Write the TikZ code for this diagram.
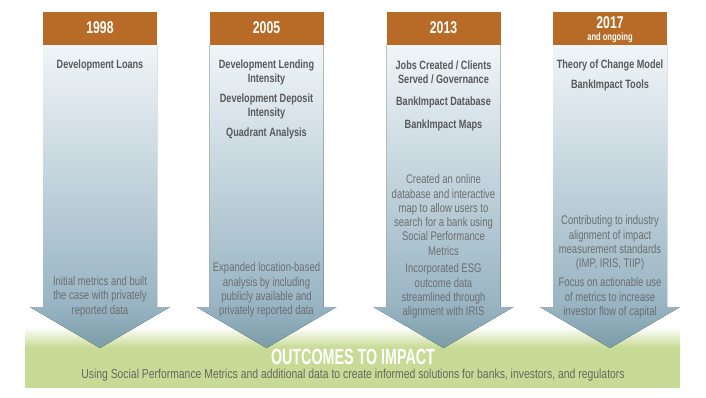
\documentclass[tikz,border=0pt]{standalone}
\usepackage{fontspec}
\setmainfont{Liberation Sans}[FakeStretch=0.76]
\newfontfamily\hdrfont{Liberation Sans}[FakeStretch=0.72]
\newfontfamily\outfont{Liberation Sans}[FakeStretch=0.65]
\newfontfamily\subfont{Liberation Sans}[FakeStretch=0.8]
\definecolor{hdrc}{HTML}{B86B27}
\definecolor{topc}{HTML}{F0F5F8}
\definecolor{shc}{HTML}{98B4C3}
\definecolor{tipc}{HTML}{7A9DA6}
\definecolor{gc}{HTML}{C8DB96}
\definecolor{titc}{HTML}{58595B}
\definecolor{bodc}{HTML}{6D6E70}
\definecolor{subc}{HTML}{66675F}
\pgfdeclareverticalshading{arrowshade}{100bp}{color(0bp)=(tipc); color(25bp)=(tipc); color(32bp)=(shc); color(75bp)=(topc); color(100bp)=(topc)}
\pgfdeclareverticalshading{greenshade}{100bp}{color(0bp)=(gc); color(25bp)=(gc); color(58bp)=(gc); color(75bp)=(white); color(100bp)=(white)}
\tikzset{
  hdrbox/.style={fill=hdrc, draw=none},
  yeartxt/.style={text=white, font=\hdrfont\bfseries\fontsize{17}{18}\selectfont, inner sep=0pt},
  subyear/.style={text=white, font=\hdrfont\bfseries\fontsize{10.5}{11}\selectfont, inner sep=0pt},
  tittxt/.style={text=titc, font=\bfseries\fontsize{12}{14}\selectfont, align=center, inner sep=0pt},
  bodtxt/.style={text=bodc, font=\fontsize{12.5}{14.3}\selectfont, align=center, inner sep=0pt},
  arrowfill/.style={shading=arrowshade, draw=none},
}
\newcommand\downarrowshape[1]{%
  \fill[arrowfill] (#1-57,45) -- (#1+57,45) -- (#1+57,307) -- (#1+70,307) -- (#1,348) -- (#1-70,307) -- (#1-57,307) -- cycle;
  \fill[hdrbox] (#1-57,12) rectangle (#1+57,45);}
\begin{document}
\begin{tikzpicture}[x=1pt,y=-1pt]
\useasboundingbox (0,0) rectangle (706,397);
\fill[shading=greenshade] (25,327) rectangle (680,387);
\downarrowshape{100}
\downarrowshape{266.5}
\downarrowshape{443.5}
\downarrowshape{610}
% headers
\node[yeartxt] (y1) at (100,28) {1998};
\node[yeartxt] (y2) at (266.5,28) {2005};
\node[yeartxt] (y3) at (443.5,28) {2013};
\node[yeartxt] (y4) at (610,22.5) {2017};
\node[subyear] (y4b) at (610,38) {and ongoing};
% column 1
\node[tittxt] (c1a) at (100,65) {Development Loans};
\node[bodtxt] (c1b) at (100,296.5) {Initial metrics and built\\the case with privately\\reported data};
% column 2
\node[tittxt] (c2a) at (266.5,72) {Development Lending\\Intensity};
\node[tittxt] (c2b) at (266.5,106) {Development Deposit\\Intensity};
\node[tittxt] (c2c) at (266.5,133) {Quadrant Analysis};
\node[bodtxt] (c2d) at (266.5,290) {Expanded location-based\\analysis by including\\publicly available and\\privately reported data};
% column 3
\node[tittxt] (c3a) at (443.5,72) {Jobs Created / Clients\\Served / Governance};
\node[tittxt] (c3b) at (443.5,102) {BankImpact Database};
\node[tittxt] (c3c) at (443.5,125) {BankImpact Maps};
\node[bodtxt] (c3d) at (443.5,215) {Created an online\\database and interactive\\map to allow users to\\search for a bank using\\Social Performance\\Metrics};
\node[bodtxt] (c3e) at (443.5,291) {Incorporated ESG\\outcome data\\streamlined through\\alignment with IRIS};
% column 4
\node[tittxt] (c4a) at (610,65) {Theory of Change Model};
\node[tittxt] (c4b) at (610,85) {BankImpact Tools};
\node[bodtxt] (c4c) at (610,243) {Contributing to industry\\alignment of impact\\measurement standards\\(IMP, IRIS, TIIP)};
\node[bodtxt] (c4d) at (610,298) {Focus on actionable use\\of metrics to increase\\investor flow of capital};
% bottom
\node[text=white, font=\outfont\bfseries\fontsize{22}{24}\selectfont, inner sep=0pt] (out) at (353,357) {OUTCOMES TO IMPACT};
\node[text=subc, font=\subfont\fontsize{13}{14}\selectfont, inner sep=0pt] (sub) at (353,375) {Using Social Performance Metrics and additional data to create informed solutions for banks, investors, and regulators};
\end{tikzpicture}
\end{document}
